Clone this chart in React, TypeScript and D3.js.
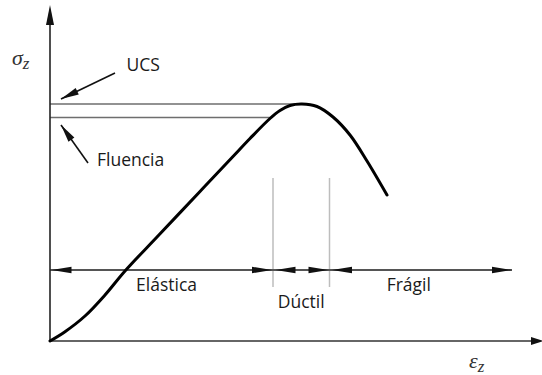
import React from "react";
import * as d3 from "d3";

// Stress–strain curve (arbitrary units): strain ε_z vs axial stress σ_z
const strain = [0, 1.5, 3.5, 5.5, 7.5, 10.7, 15, 18.3, 20, 22, 23, 24, 25.2, 26.7, 28.3, 30, 31.7, 33.7];
const stress = [0, 0.93, 2.5, 4.6, 7.0, 10.4, 14.95, 18.45, 20.25, 22.25, 23.05, 23.55, 23.7, 23.45, 22.4, 20.6, 18.0, 14.6];

// Reference stress levels
const stressLevels = ["UCS", "Fluencia"];
const levelValues = [23.7, 22.35];
const levelEnds = [24.7, 22.0];

// Behaviour zones along the strain axis
const zoneNames = ["Elástica", "Dúctil", "Frágil"];
const zoneStarts = [0, 22.3, 27.95];
const zoneEnds = [22.3, 27.95, 46.2];
const zoneLabelY = [5.0, 3.3, 5.0];

const W = 542;
const H = 375;

export default function App() {
  const x = d3.scaleLinear().domain([0, 49]).range([50, 540]);
  const y = d3.scaleLinear().domain([0, 33.6]).range([341, 5]);

  const line = d3
    .line<number>()
    .x((_, i) => x(strain[i]))
    .y((d) => y(d))
    .curve(d3.curveCatmullRom.alpha(0.5));

  // Filled triangular head pointing from (fx,fy) towards (tx,ty)
  const head = (tx: number, ty: number, fx: number, fy: number, len: number, hw: number) => {
    const dx = tx - fx;
    const dy = ty - fy;
    const L = Math.hypot(dx, dy);
    const ux = dx / L;
    const uy = dy / L;
    const bx = tx - ux * len;
    const by = ty - uy * len;
    const px = -uy * hw;
    const py = ux * hw;
    return `M${tx},${ty}L${bx + px},${by + py}L${bx - px},${by - py}Z`;
  };

  const dimY = y(7.1);
  const font = "'Open Sans', sans-serif";
  const mathFont = "'Liberation Serif', 'DejaVu Serif', serif";

  // Pointer arrows from the level labels to the vertical axis
  const pointers = [
    { from: [6.5, 26.8], to: [1.1, 24.2] },
    { from: [3.8, 17.8], to: [1.1, 21.6] },
  ];
  const labelPos = [
    [7.65, 27.0],
    [4.7, 17.5],
  ];

  const boundaries = zoneEnds.slice(0, 2);

  return (
    <svg
      width={W}
      height={H}
      style={{ position: "absolute", left: 0, top: 0, background: "#fff" }}
    >
      {/* stress level lines */}
      {levelValues.map((v, i) => (
        <line
          key={"lv" + i}
          x1={x(0)}
          x2={x(levelEnds[i])}
          y1={y(v)}
          y2={y(v)}
          stroke="#6e6e6e"
          strokeWidth={1.5}
        />
      ))}

      {/* zone boundaries */}
      {boundaries.map((b, i) => (
        <line
          key={"b" + i}
          x1={x(b)}
          x2={x(b)}
          y1={y(16.3)}
          y2={y(5.4)}
          stroke="#bdbdbd"
          strokeWidth={1.5}
        />
      ))}

      {/* zone dimension line */}
      <line x1={x(0)} x2={x(46.2)} y1={dimY} y2={dimY} stroke="#555" strokeWidth={2} />
      {zoneNames.map((_, i) => {
        const a = x(zoneStarts[i]) + (i === 0 ? 1.5 : 2.5);
        const b = x(zoneEnds[i]) - (i === 2 ? 0 : 1);
        return (
          <g key={"z" + i}>
            <path d={head(a, dimY, a + 10, dimY, 20, 3.2)} fill="#111" />
            <path d={head(b, dimY, b - 10, dimY, 20, 3.2)} fill="#111" />
          </g>
        );
      })}

      {/* axes */}
      <line x1={x(0)} x2={x(0)} y1={y(0)} y2={y(33.6) + 10} stroke="#222" strokeWidth={1.6} />
      <path d={head(x(0), y(33.6), x(0), y(0), 20, 4)} fill="#111" />
      <line x1={x(0)} x2={x(49) - 4} y1={y(0)} y2={y(0)} stroke="#333" strokeWidth={1.6} />
      <path d={head(x(49) + 4, y(0), x(0), y(0), 13, 4)} fill="#111" />

      {/* stress–strain curve */}
      <path
        d={line(stress) || ""}
        fill="none"
        stroke="#000"
        strokeWidth={3}
        strokeLinecap="round"
        strokeLinejoin="round"
      />

      {/* pointers */}
      {pointers.map((p, i) => {
        const fx = x(p.from[0]);
        const fy = y(p.from[1]);
        const tx = x(p.to[0]);
        const ty = y(p.to[1]);
        return (
          <g key={"p" + i}>
            <line x1={fx} y1={fy} x2={tx} y2={ty} stroke="#111" strokeWidth={1.6} />
            <path d={head(tx, ty, fx, fy, 18, 3.6)} fill="#111" />
          </g>
        );
      })}

      {/* level labels */}
      {stressLevels.map((s, i) => (
        <text
          key={"l" + i}
          x={x(labelPos[i][0])}
          y={y(labelPos[i][1])}
          fontFamily={font}
          fontSize={17.5}
          fill="#1a1a1a"
        >
          {s}
        </text>
      ))}

      {/* zone labels */}
      {zoneNames.map((z, i) => (
        <text
          key={"zn" + i}
          x={(x(zoneStarts[i]) + x(zoneEnds[i])) / 2 + (i === 0 ? 5 : i === 2 ? -12 : 0)}
          y={y(zoneLabelY[i])}
          textAnchor="middle"
          fontFamily={font}
          fontSize={17.5}
          fill="#1a1a1a"
        >
          {z}
        </text>
      ))}

      {/* axis titles */}
      <text x={12} y={65} fontFamily={mathFont} fontStyle="italic" fontSize={22} fill="#333">
        σ
        <tspan fontSize={17} dy={4}>
          z
        </tspan>
      </text>
      <text x={469} y={368} fontFamily={mathFont} fontStyle="italic" fontSize={22} fill="#333">
        ε
        <tspan fontSize={17} dy={4}>
          z
        </tspan>
      </text>
    </svg>
  );
}
